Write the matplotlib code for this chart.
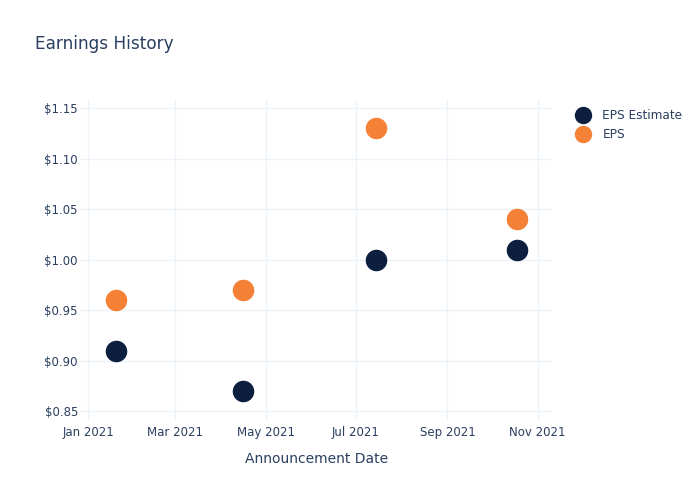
import matplotlib
matplotlib.use("Agg")
import matplotlib.pyplot as plt
import matplotlib.dates as mdates
import matplotlib.ticker as mticker
from matplotlib.lines import Line2D
import numpy as np
import datetime as dt

dates = ["2021-01-20", "2021-04-16", "2021-07-15", "2021-10-18"]
eps_estimate = [0.91, 0.87, 1.00, 1.01]
eps_actual = [0.96, 0.97, 1.13, 1.04]
tick_dates = ["2021-01-01", "2021-03-01", "2021-05-01", "2021-07-01", "2021-09-01", "2021-11-01"]
y_ticks = [0.85, 0.90, 0.95, 1.00, 1.05, 1.10, 1.15]

navy = "#0c1f3f"
orange = "#f58136"
text_c = "#2a3f5f"
grid_c = "#eef2f9"

x = [dt.datetime.strptime(d, "%Y-%m-%d") for d in dates]
xt = [dt.datetime.strptime(d, "%Y-%m-%d") for d in tick_dates]

fig = plt.figure(figsize=(7, 5), dpi=100)
ax = fig.add_axes([80/700, 80/500, 473/700, 320/500])

ax.plot(x, eps_estimate, "o", ms=14.5, color=navy, label="EPS Estimate", zorder=3)
ax.plot(x, eps_actual, "o", ms=14.5, color=orange, label="EPS", zorder=3)

ax.set_xlim(dt.datetime(2020, 12, 26, 14), dt.datetime(2021, 11, 11, 8))
ax.set_ylim(0.8415, 1.158)
ax.set_xticks(xt)
ax.xaxis.set_major_formatter(mdates.DateFormatter("%b %Y"))
ax.set_yticks(y_ticks)
ax.yaxis.set_major_formatter(mticker.FuncFormatter(lambda v, p: f"${v:.2f}"))

for s in ax.spines.values():
    s.set_visible(False)
ax.grid(True, color=grid_c, linewidth=1)
ax.set_axisbelow(True)
ax.tick_params(axis="both", length=0, labelsize=8.5, labelcolor=text_c)
ax.tick_params(axis="y", pad=1.5)
ax.tick_params(axis="x", pad=4)

ax.set_xlabel("Announcement Date", fontsize=10, color=text_c, labelpad=10)
fig.text(35/700, 1 - 44/500, "Earnings History", fontsize=12.2, color=text_c, va="center", ha="left")

handles = [Line2D([], [], marker="o", ls="", ms=11.5, color=navy),
           Line2D([], [], marker="o", ls="", ms=11.5, color=orange)]
fig.legend(handles, ["EPS Estimate", "EPS"], loc="upper left",
           bbox_to_anchor=(571/700, 1 - 104/500), frameon=False,
           fontsize=8.7, labelcolor=text_c, handletextpad=1.0, labelspacing=0.5,
           handlelength=1.2, borderaxespad=0)

fig.savefig("out.png", dpi=100, facecolor="white")
